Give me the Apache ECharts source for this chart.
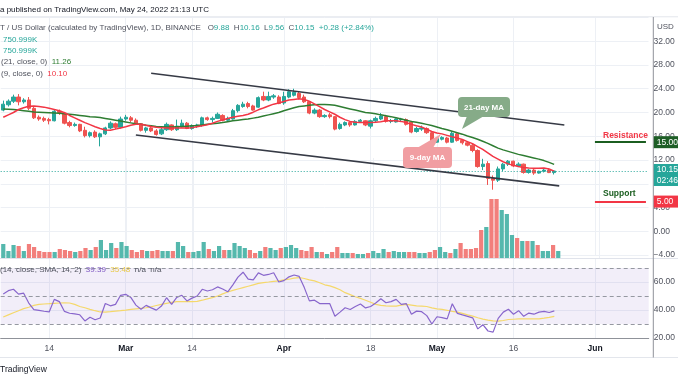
<!DOCTYPE html>
<html><head><meta charset="utf-8">
<script src="https://cdn.jsdelivr.net/npm/echarts@6/dist/echarts.min.js"></script>
<style>html,body{margin:0;padding:0;background:#fff}#c{width:678px;height:381px}</style>
</head><body><div id="c"></div>
<script>
// ---- categories (daily, Feb 5 2022 .. Jun 11 2022) ----
const firstDay = '2022-02-05';
const dayCount = 127;
const categories = [];
(function(){ const d = new Date(firstDay + 'T00:00:00Z'); for (let k = 0; k < dayCount; k++) { categories.push(d.toISOString().slice(0,10)); d.setUTCDate(d.getUTCDate()+1); } })();

const timeTickLabels = {'2022-02-14':'14','2022-03-01':'Mar','2022-03-14':'14','2022-04-01':'Apr','2022-04-18':'18','2022-05-01':'May','2022-05-16':'16','2022-06-01':'Jun'};

const opens = [20.4,21.3,21.9,22.6,21.8,22.1,20.7,19.2,19.0,18.8,
18.6,20.2,19.9,18.3,17.8,18.0,17.0,16.1,16.7,15.9,
16.4,17.4,18.1,17.5,18.9,19.1,18.7,18.1,17.0,17.4,
16.9,16.4,17.1,17.9,17.1,17.6,18.2,17.3,17.7,17.8,
19.1,18.8,19.0,19.5,18.7,18.9,20.3,21.0,21.5,21.1,
20.9,22.7,22.1,22.6,22.6,21.6,22.6,22.9,23.2,22.6,
21.8,19.9,20.4,19.3,19.6,19.3,17.3,17.9,18.3,17.9,
18.5,18.6,17.7,18.6,18.9,19.3,18.5,18.4,18.8,18.8,
18.4,16.8,17.2,17.3,16.6,15.0,15.5,15.7,15.0,16.4,
15.3,14.9,14.5,13.6,10.9,11.4,8.9,8.6,10.5,11.3,
11.8,11.0,11.3,9.9,10.3,9.8,10.1,10.3,9.88];
const closes = [21.4,21.9,22.6,21.8,22.1,20.7,19.1,18.9,18.7,18.6,
20.2,20.0,18.2,17.8,18.0,16.9,16.1,16.6,15.9,16.4,
17.4,18.2,17.5,18.9,19.2,18.7,18.1,17.0,17.4,16.9,
16.3,17.1,18.0,17.1,17.7,18.2,17.3,17.8,17.9,19.1,
18.8,19.0,19.7,18.7,19.0,20.3,21.2,21.4,21.0,20.4,
22.5,22.1,22.7,22.8,21.5,22.7,23.5,23.4,22.5,21.8,
19.9,20.4,19.3,19.5,19.3,17.2,18.0,18.3,17.9,18.5,
18.7,17.9,18.6,19.0,19.4,18.5,18.6,18.9,18.9,18.0,
16.7,17.3,17.4,16.6,15.0,15.6,15.8,15.0,16.5,15.3,
14.9,14.5,13.6,10.9,11.3,8.9,8.6,10.5,11.3,11.8,
11.0,11.3,9.9,10.3,9.8,10.1,10.3,9.88,10.15];
const lows = [20.2,21.0,21.6,21.2,21.5,20.4,18.9,18.6,18.4,18.0,
18.5,19.6,18.0,17.5,17.6,16.7,15.8,15.8,15.7,14.3,
16.2,17.2,17.2,17.3,18.6,18.4,17.9,16.8,16.6,16.7,
16.1,16.2,16.9,16.9,16.9,17.5,17.2,17.1,17.4,17.6,
18.6,18.3,18.9,18.5,18.5,18.8,20.0,20.8,20.7,20.3,
20.8,21.9,21.9,22.3,21.4,21.3,22.4,22.7,22.2,21.6,
19.7,19.7,19.1,19.1,19.0,17.0,17.1,17.7,17.6,17.8,
18.3,17.7,17.3,18.4,18.7,18.3,18.2,18.3,18.5,17.8,
16.5,16.6,16.9,16.4,14.8,14.9,15.3,14.8,14.9,15.1,
14.6,14.3,13.3,10.7,10.3,7.8,7.0,8.3,10.1,11.0,
10.8,10.8,9.7,9.7,9.5,9.7,9.9,9.8,9.56];
const highs = [22.0,22.2,23.0,23.1,22.4,22.6,21.0,19.5,19.3,19.1,
20.4,20.5,20.1,18.6,18.3,18.1,17.6,16.8,17.0,16.6,
17.6,18.5,18.3,19.3,19.6,19.4,19.0,18.2,17.6,17.6,
17.2,17.4,18.3,18.0,18.8,18.8,18.4,18.0,18.1,19.3,
19.3,19.3,20.0,19.7,19.3,20.6,21.4,21.8,21.8,21.3,
22.7,23.5,23.5,23.1,22.9,23.5,23.9,24.0,23.5,23.0,
21.9,20.7,20.6,19.7,19.9,19.4,18.3,18.5,18.5,18.7,
18.9,18.7,18.8,19.3,19.9,19.6,18.9,19.0,19.1,19.0,
18.6,17.6,17.8,17.5,16.8,15.8,16.0,15.9,16.8,16.6,
15.5,15.1,14.7,13.8,12.2,11.8,9.4,10.9,11.5,12.0,
11.9,11.6,11.4,10.5,10.5,10.2,10.5,10.6,10.16];
const volumes = [14,7,13,12,7,14,11,7,6,6,
6,9,8,7,6,7,10,8,11,18,
8,15,10,16,12,8,6,8,7,7,
8,7,7,7,16,12,6,6,7,16,
9,7,12,8,8,15,12,10,8,5,
7,11,10,8,10,11,13,10,8,7,
11,6,6,4,6,11,5,5,5,4,
4,5,7,5,9,6,7,6,6,6,
6,5,5,6,8,11,6,5,9,15,
9,9,10,28,31,59,59,48,44,23,
20,17,17,17,13,7,7,13,7];
const ma9 = [19.2,19.6,20.0,20.5,20.8,21.05,21.1,21.0,20.9,20.7,
20.5,20.3,19.95,19.5,19.1,18.7,18.3,17.95,17.6,17.3,
17.05,17.0,17.2,17.4,17.6,17.85,18.0,18.0,17.85,17.65,
17.5,17.45,17.4,17.4,17.4,17.4,17.4,17.45,17.6,17.75,
17.95,18.2,18.5,18.75,19.0,19.2,19.35,19.5,19.7,20.05,
20.45,20.75,21.1,21.4,21.6,21.85,22.1,22.2,22.3,22.2,
21.9,21.45,21.0,20.5,20.1,19.7,19.2,18.8,18.5,18.35,
18.3,18.3,18.3,18.35,18.45,18.6,18.6,18.6,18.5,18.3,
18.0,17.75,17.55,17.2,16.8,16.55,16.4,16.15,15.9,15.7,
15.45,15.1,14.75,14.25,13.8,13.2,12.6,12.15,11.7,11.35,
11.1,10.9,10.75,10.65,10.6,10.6,10.65,10.5,10.1];
const ma21 = [20.6,20.55,20.5,20.4,20.3,20.2,20.1,20.05,20.0,19.95,
19.9,19.85,19.8,19.7,19.6,19.5,19.4,19.3,19.25,19.15,
19.0,18.85,18.7,18.55,18.4,18.25,18.1,18.0,17.85,17.75,
17.65,17.6,17.55,17.55,17.6,17.65,17.7,17.75,17.8,17.9,
18.0,18.1,18.2,18.3,18.45,18.6,18.7,18.8,18.9,19.05,
19.2,19.4,19.6,19.8,20.0,20.3,20.55,20.8,21.0,21.1,
21.2,21.3,21.35,21.35,21.3,21.2,21.0,20.8,20.6,20.4,
20.2,20.0,19.9,19.8,19.6,19.45,19.3,19.1,18.9,18.7,
18.5,18.35,18.2,18.0,17.8,17.55,17.3,17.1,16.85,16.6,
16.35,16.05,15.8,15.5,15.15,14.8,14.4,14.0,13.7,13.45,
13.2,12.95,12.75,12.55,12.35,12.15,11.9,11.6,11.26];
const rsi = [51.5,53.8,54.8,51.3,52,45,40.3,39.8,39.1,38.6,
47.6,46,39,37.7,37.2,36.6,32.2,34.8,33,34.3,
44.7,43,44,50.5,51.2,49,43.5,40.5,43.3,41.5,
39.9,42.8,48.8,44,49,50.5,46.5,48.5,50,54.8,
53.6,54.5,56.5,55,53,58,63.5,67,62,61.5,
66.5,64.8,65.4,66.6,60,61,63.7,65,64,56,
46.5,47,44.6,44.5,44.5,35.6,38.5,41.6,40.4,42.5,
44.3,41.5,42.5,45,48,45.2,46,47.6,44,44.5,
37,39.2,38.8,36,30,35.2,34.5,33.7,44.5,37.6,
36.5,35.5,34.4,26.5,29.5,25,24.2,34,38.5,40.5,
37,39.5,35.5,37.8,37,38.5,39,38.2,39.39];
const rsiMa = [35,36.5,38,39.5,41,42,43.3,44,44.3,44.5,
44.8,45,45.2,45,44,42.5,41.6,40.5,39.5,38.6,
38.5,38.8,39.2,39.5,39.9,40.4,40.8,41.2,41.6,42.3,
43.2,44,44.7,45.4,46,46,46,46,46.2,47,
48,48.8,50,51.5,52.9,54,55,56,57,58,
59,59.6,60,60.5,60.8,61.5,62,62.8,63.2,62.5,
61.5,60.8,59.5,58,57.2,56,54.5,52.4,51,49.5,
48.3,47,45.5,44,43.3,43,42.8,42.8,43.5,44,
43.5,43,42.8,42.5,41.5,40.8,40.4,39.8,39,38.5,
37.6,36.5,35.6,34.5,33.5,32.8,32.2,32,32.5,33.2,
33.4,33.6,33.7,33.7,33.7,33.7,34.2,34.8,35.48];

// annotation levels
const lastPrice = 10.15;
const resistanceLevel = 15;
const supportLevel = 5;
const channelUpper = [['2022-03-06', 26.6], ['2022-05-26', 17.9]];
const channelLower = [['2022-03-03', 16.2], ['2022-05-25', 7.65]];
const levelStart = '2022-06-01', levelEnd = '2022-06-11';

const UP = '#26a69a', DOWN = '#ef5350';
const FONT = '"Liberation Sans", Arial, sans-serif';
const GRIDC = '#edf0f5';

const chart = echarts.init(document.getElementById('c'), null, {renderer: 'canvas'});

const candleData = opens.map((o, i) => [o, closes[i], lows[i], highs[i]]);
const volData = volumes.map((v, i) => ({value: v, itemStyle: {color: closes[i] >= opens[i] ? '#55b8ad' : '#f27f7c'}}));

const tickInterval = (idx, val) => timeTickLabels[val] !== undefined;
const L = 0.7, R = 24.7;

const option = {
  animation: false,
  backgroundColor: '#ffffff',
  textStyle: {fontFamily: FONT},
  grid: [
    {left: L, right: R, top: 17.44, bottom: 381 - 255.04},
    {left: L, right: R, top: 158, bottom: 123},
    {left: L, right: R, top: 258.5, bottom: 43}
  ],
  xAxis: [
    {type: 'category', gridIndex: 0, data: categories, boundaryGap: true,
     axisLine: {show: false}, axisTick: {show: false}, axisLabel: {show: false},
     splitLine: {show: true, interval: tickInterval, alignWithLabel: true, lineStyle: {color: GRIDC, width: 1}}},
    {type: 'category', gridIndex: 1, data: categories, boundaryGap: true,
     axisLine: {show: false}, axisTick: {show: false}, axisLabel: {show: false},
     splitLine: {show: true, interval: tickInterval, alignWithLabel: true, lineStyle: {color: GRIDC, width: 1}}},
    {type: 'category', gridIndex: 2, data: categories, boundaryGap: true,
     axisLine: {show: true, lineStyle: {color: '#8f9299', width: 1}}, axisTick: {show: false},
     axisLabel: {show: true, interval: tickInterval, margin: 6, fontSize: 8.5, color: '#50535e', fontFamily: FONT,
       formatter: v => { const t = timeTickLabels[v]; if (!t) return ''; return /^[A-Z]/.test(t) ? '{b|' + t + '}' : t; },
       rich: {b: {fontWeight: 'bold', color: '#131722', fontSize: 8.5, fontFamily: FONT}}},
     splitLine: {show: true, interval: tickInterval, alignWithLabel: true, lineStyle: {color: GRIDC, width: 1}}}
  ],
  yAxis: [
    {type: 'value', gridIndex: 0, position: 'right', min: -4, max: 36, interval: 4, scale: false,
     axisLine: {show: false}, axisTick: {show: false},
     axisLabel: {margin: 5, fontSize: 8.5, color: '#50535e', fontFamily: FONT,
       formatter: v => (v >= 36 ? '' : (v < 0 ? '\u2212' + Math.abs(v).toFixed(2) : v.toFixed(2)))},
     splitLine: {show: true, lineStyle: {color: GRIDC, width: 1}}},
    {type: 'value', gridIndex: 1, min: 0, max: 100, show: false},
    {type: 'value', gridIndex: 2, position: 'right', min: 20, max: 76.8, interval: 20,
     axisLine: {show: false}, axisTick: {show: false},
     axisLabel: {margin: 5, fontSize: 8.5, color: '#50535e', fontFamily: FONT,
       formatter: v => (v % 20 === 0 && v < 70 ? v.toFixed(2) : '')},
     splitLine: {show: true, lineStyle: {color: GRIDC, width: 1}}}
  ],
  series: [
    {type: 'bar', xAxisIndex: 1, yAxisIndex: 1, data: volData, barWidth: 4.2, z: 1, silent: true},
    {type: 'candlestick', xAxisIndex: 0, yAxisIndex: 0, data: candleData, barWidth: 3.8, z: 3,
     itemStyle: {color: UP, color0: DOWN, borderColor: UP, borderColor0: DOWN, borderWidth: 1},
     markLine: {silent: true, symbol: ['none', 'none'], animation: false, label: {show: false},
       data: [
         {yAxis: lastPrice, lineStyle: {type: [1, 2], color: UP, width: 1}},
         [{coord: channelUpper[0]}, {coord: channelUpper[1]}],
         [{coord: channelLower[0]}, {coord: channelLower[1]}],
         [{coord: [levelStart, resistanceLevel], lineStyle: {color: '#1b5e20', width: 2, type: 'solid'}}, {coord: [levelEnd, resistanceLevel]}],
         [{coord: [levelStart, supportLevel], lineStyle: {color: '#f23645', width: 2, type: 'solid'}}, {coord: [levelEnd, supportLevel]}]
       ],
       lineStyle: {color: '#363a45', width: 1.6, type: 'solid'}}},
    {type: 'line', xAxisIndex: 0, yAxisIndex: 0, data: ma21, showSymbol: false, z: 4,
     lineStyle: {color: '#2e7d32', width: 1.5}},
    {type: 'line', xAxisIndex: 0, yAxisIndex: 0, data: ma9, showSymbol: false, z: 4,
     lineStyle: {color: '#f23645', width: 1.5}},
    {type: 'line', xAxisIndex: 2, yAxisIndex: 2, data: rsiMa, showSymbol: false, z: 3,
     lineStyle: {color: '#f5d86a', width: 1.2}},
    {type: 'line', xAxisIndex: 2, yAxisIndex: 2, data: rsi, showSymbol: false, z: 4,
     lineStyle: {color: '#8866cc', width: 1.2},
     markArea: {silent: true, itemStyle: {color: 'rgba(126,87,194,0.1)'}, data: [[{yAxis: 70}, {yAxis: 30}]]},
     markLine: {silent: true, symbol: ['none', 'none'], label: {show: false},
       lineStyle: {color: '#9598a1', type: [4, 3], width: 1},
       data: [{yAxis: 70}, {yAxis: 50}, {yAxis: 30}]}}
  ]
};
chart.setOption(option);

// ---- texts, callouts and price-scale tags ----
const yPix = v => chart.convertToPixel({yAxisIndex: 0}, v);
const axisX = 653.3;
const tag = (v, lines, color) => {
  const y = yPix(v);
  const h = lines.length === 1 ? 12 : 22;
  const top = lines.length === 1 ? y - 6 : y - 7;
  const els = [{type: 'rect', shape: {x: axisX + 0.5, y: top, width: 30, height: h}, style: {fill: color}, z: 120}];
  lines.forEach((t, k) => els.push({type: 'text', x: axisX + 3.5, y: top + 6 + k * 10.5,
    style: {text: t, fill: '#ffffff', font: '8.5px ' + FONT, verticalAlign: 'middle'}, z: 121}));
  return els;
};
const txt = (x, y, text, rich, extra) => Object.assign({type: 'text', x: x, y: y, z: 110,
  style: {text: text, rich: rich, font: '8px ' + FONT, fill: '#50535e', verticalAlign: 'middle'}}, extra || {});

const g = [];
// frame lines
g.push({type: 'line', shape: {x1: 0, y1: 16.8, x2: 678, y2: 16.8}, style: {stroke: '#e3e6ec', lineWidth: 1}, z: 100});
g.push({type: 'line', shape: {x1: 0, y1: 357.5, x2: 678, y2: 357.5}, style: {stroke: '#e3e6ec', lineWidth: 1}, z: 100});
g.push({type: 'line', shape: {x1: 0, y1: 258.5, x2: 678, y2: 258.5}, style: {stroke: '#e0e3eb', lineWidth: 1}, z: 100});
g.push({type: 'line', shape: {x1: axisX, y1: 17, x2: axisX, y2: 357.5}, style: {stroke: '#8f9299', lineWidth: 1}, z: 100});
// header
g.push(txt(0, 10, 'a published on TradingView.com, May 24, 2022 21:13 UTC', null, {style: {text: 'a published on TradingView.com, May 24, 2022 21:13 UTC', font: '8px ' + FONT, fill: '#131722', verticalAlign: 'middle'}}));
g.push(txt(0, 28, '{g|T / US Dollar (calculated by TradingView), 1D, BINANCE}   {g|O}{t|9.88}  {g|H}{t|10.16}  {g|L}{t|9.56}  {g|C}{t|10.15}  {t|+0.28 (+2.84%)}',
  {g: {fill: '#50535e', font: '8px ' + FONT}, t: {fill: UP, font: '8px ' + FONT}}));
g.push(txt(3, 39.5, '750.999K', null, {style: {text: '750.999K', font: '8px ' + FONT, fill: UP, verticalAlign: 'middle'}}));
g.push(txt(3, 50.7, '750.999K', null, {style: {text: '750.999K', font: '8px ' + FONT, fill: UP, verticalAlign: 'middle'}}));
g.push(txt(1, 62.2, '{g|(21, close, 0)}  {v|11.26}', {g: {fill: '#50535e', font: '8px ' + FONT}, v: {fill: '#2e7d32', font: '8px ' + FONT}}));
g.push(txt(1, 73.5, '{g|(9, close, 0)}  {v|10.10}', {g: {fill: '#50535e', font: '8px ' + FONT}, v: {fill: '#f23645', font: '8px ' + FONT}}));
g.push(txt(0, 270, '{g|(14, close, SMA, 14, 2)}  {p|39.39}  {y|35.48}  {g|n/a}  {g|n/a}',
  {g: {fill: '#50535e', font: '8px ' + FONT}, p: {fill: '#7e57c2', font: '8px ' + FONT}, y: {fill: '#e9c94a', font: '8px ' + FONT}}));
g.push(txt(657, 27, 'USD', null, {style: {text: 'USD', font: '8px ' + FONT, fill: '#50535e', verticalAlign: 'middle'}}));
g.push(txt(0, 370, 'TradingView', null, {style: {text: 'TradingView', font: '8.5px ' + FONT, fill: '#131722', verticalAlign: 'middle'}}));
// callouts
g.push({type: 'polygon', shape: {points: [[467, 116], [484, 116], [462, 129]]}, style: {fill: '#86ab88'}, z: 110});
g.push({type: 'rect', shape: {x: 458, y: 97, width: 52, height: 20, r: 4}, style: {fill: '#86ab88'}, z: 110});
g.push({type: 'text', x: 484, y: 107.5, z: 111, style: {text: '21-day MA', fill: '#ffffff', font: 'bold 8px ' + FONT, align: 'center', verticalAlign: 'middle'}});
g.push({type: 'polygon', shape: {points: [[417, 148], [433, 148], [441, 134]]}, style: {fill: '#f19ea2'}, z: 110});
g.push({type: 'rect', shape: {x: 403, y: 147, width: 49, height: 21, r: 4}, style: {fill: '#f19ea2'}, z: 110});
g.push({type: 'text', x: 427.5, y: 158, z: 111, style: {text: '9-day MA', fill: '#ffffff', font: 'bold 8px ' + FONT, align: 'center', verticalAlign: 'middle'}});
// level labels
g.push({type: 'text', x: 603, y: yPix(resistanceLevel) - 6.5, z: 111, style: {text: 'Resistance', fill: '#f23645', font: 'bold 8.5px ' + FONT, verticalAlign: 'middle'}});
g.push({type: 'text', x: 603, y: yPix(supportLevel) - 8, z: 111, style: {text: 'Support', fill: '#1b5e20', font: 'bold 8.5px ' + FONT, verticalAlign: 'middle'}});
// price tags
g.push(...tag(resistanceLevel, ['15.00'], '#1e5e26'));
g.push(...tag(supportLevel, ['5.00'], '#f23645'));
g.push(...tag(lastPrice, ['10.15', '02:46'], UP));
chart.setOption({graphic: {elements: g}});
</script></body></html>
